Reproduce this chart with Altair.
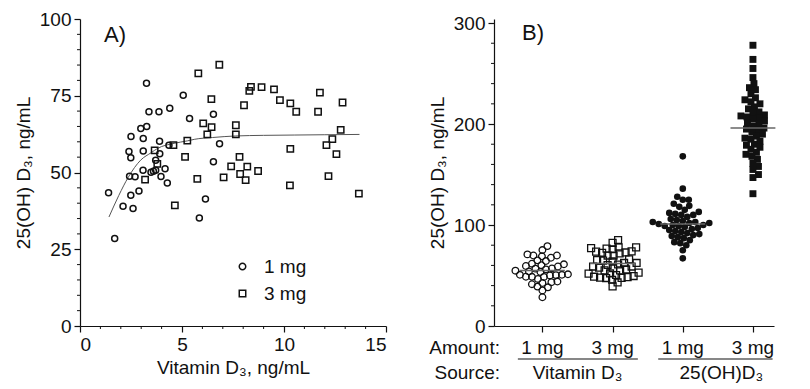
import altair as alt
import pandas as pd

FONT = "Liberation Sans"
INK = "#111111"

# ---------------- Panel A data ----------------
a1_x = [3.26, 5.06, 3.38, 3.87, 4.40, 5.37, 6.54, 2.98, 3.27, 2.50, 3.10, 3.90, 4.36, 6.84, 2.40,
        2.49, 3.10, 3.91, 3.71, 6.54, 2.43, 2.70, 3.09, 3.48, 3.60, 3.71, 4.17, 3.97, 4.28, 1.40,
        2.49, 2.89, 2.11, 2.60, 1.70, 6.15, 5.85]
a1_y = [79.1, 75.2, 69.8, 69.8, 70.9, 67.6, 69.0, 64.3, 65.0, 61.7, 61.1, 60.2, 58.9, 59.4, 56.8,
        54.8, 57.0, 56.1, 54.0, 53.5, 48.8, 48.6, 50.7, 50.1, 50.4, 50.7, 51.2, 48.7, 46.6, 43.4,
        42.6, 44.0, 39.0, 38.3, 28.5, 41.4, 35.2]
a3_x = [6.83, 5.80, 8.38, 8.90, 8.30, 9.51, 11.76, 6.44, 9.80, 10.31, 10.60, 8.04, 12.87, 11.67, 6.04,
        6.45, 7.64, 12.78, 6.24, 7.64, 5.26, 4.58, 3.66, 12.37, 12.08, 12.57, 10.31, 5.15, 7.82, 7.41,
        8.20, 8.73, 7.85, 8.12, 7.04, 5.75, 3.79, 3.19, 4.65, 10.29, 12.18, 13.67]
a3_y = [85.1, 82.3, 77.9, 77.8, 76.6, 77.1, 76.0, 73.9, 73.6, 72.5, 69.8, 71.9, 72.8, 69.8, 66.0,
        64.8, 65.4, 63.9, 62.4, 62.4, 60.4, 58.9, 57.2, 60.9, 58.9, 56.0, 57.7, 55.1, 55.1, 52.0,
        51.9, 50.5, 49.5, 47.5, 48.4, 47.9, 52.8, 47.7, 39.3, 45.8, 48.8, 43.1]
fit_x = [1.42, 1.9, 2.37, 2.97, 3.5, 3.79, 4.61, 5.26, 5.6, 6.5, 7.63, 9.0, 10.5, 12.0, 13.7]
fit_y = [35.5, 42.5, 48.5, 54.0, 56.5, 57.8, 59.5, 60.3, 60.8, 61.4, 61.9, 62.1, 62.2, 62.3, 62.4]

# ---------------- Panel B data ----------------
b1 = a1_y   # 1 mg vitamin D3
b2 = a3_y   # 3 mg vitamin D3
b3 = [168, 136, 128, 125, 125, 121, 119, 118, 115, 113, 112, 111, 110, 110, 108, 106, 105, 104,
      103, 103, 102, 102, 101, 100, 100, 99, 99, 98, 97, 96, 95, 94, 93, 92, 91, 90, 89, 88, 87,
      85, 83, 82, 80, 75, 67]
b4 = [278, 264, 255, 246, 240, 236, 234, 230, 226, 224, 222, 220, 217, 215, 212, 211, 209, 208,
      207, 206, 205, 203, 201, 200, 198, 196, 195, 194, 192, 190, 188, 186, 185, 183, 180, 179,
      177, 175, 172, 170, 168, 165, 161, 158, 155, 150, 147, 131]
b_means = [55, 62, 101, 196]
amount_labels = ["1 mg", "3 mg", "1 mg", "3 mg"]
source_labels = ["Vitamin D₃", "25(OH)D₃"]
source_x = [1.5, 3.55]
source_start = [0.65, 2.65]
source_end = [2.36, 4.28]

# ---------------- layout sizes ----------------
WA, HA = 306, 307
WB, HB = 280, 307
B_DOM = [0.31, 4.3]
B_YMAX = 304


def swarm(vals, ppx, ppy, d=6.0, step=0.5):
    """beeswarm layout: horizontal pixel offsets so that markers do not overlap too much"""
    placed = []
    offs = [0.0] * len(vals)
    for i in sorted(range(len(vals)), key=lambda k: vals[k]):
        y = vals[i] * ppy
        k = 0
        done = False
        while not done:
            cands = [0.0] if k == 0 else [k * step, -k * step]
            for c in cands:
                if all((c - px) ** 2 + (y - py) ** 2 >= d * d for px, py in placed):
                    offs[i] = c
                    placed.append((c, y))
                    done = True
                    break
            k += 1
    return [o / ppx for o in offs]


ppx = WB / (B_DOM[1] - B_DOM[0])
ppy = HB / B_YMAX
rows = []
for g, (vals, shp, filled) in enumerate([(b1, "circle", 0), (b2, "square", 0),
                                         (b3, "circle", 1), (b4, "square", 1)], start=1):
    offs = swarm(vals, ppx, ppy)
    for v, o in zip(vals, offs):
        rows.append({"g": g + o, "v": v, "shape": shp, "filled": filled})
dfB = pd.DataFrame(rows)

# ---------------- Panel A ----------------
dfA = pd.DataFrame({"x": a1_x + a3_x, "y": a1_y + a3_y,
                    "dose": ["1 mg"] * len(a1_x) + ["3 mg"] * len(a3_x)})
xA = alt.X("x:Q", scale=alt.Scale(domain=[0, 15], nice=False),
           axis=alt.Axis(values=[0, 5, 10, 15], title="Vitamin D₃, ng/mL", grid=False,
                         tickSize=6, titlePadding=4, labelPadding=3))
yA = alt.Y("y:Q", scale=alt.Scale(domain=[0, 100], nice=False),
           axis=alt.Axis(values=[0, 25, 50, 75, 100], title="25(OH) D₃, ng/mL", grid=False,
                         tickSize=6, titlePadding=6, labelPadding=3))

ptsA = alt.Chart(dfA).mark_point(filled=False, strokeWidth=1.5, color=INK, opacity=1).encode(
    x=xA, y=yA,
    shape=alt.Shape("dose:N", scale=alt.Scale(domain=["1 mg", "3 mg"], range=["circle", "square"]),
                    legend=alt.Legend(title=None, orient="none", legendX=153, legendY=238,
                                      labelFontSize=19, labelFont=FONT, labelColor=INK,
                                      symbolSize=42, symbolStrokeWidth=1.5, symbolStrokeColor=INK,
                                      symbolFillColor="transparent", labelOffset=12, rowPadding=7)),
    size=alt.Size("dose:N", scale=alt.Scale(domain=["1 mg", "3 mg"], range=[36, 48]), legend=None),
)
fitA = alt.Chart(pd.DataFrame({"x": fit_x, "y": fit_y})).mark_line(
    color="#555555", strokeWidth=1, interpolate="monotone").encode(x="x:Q", y="y:Q")

minorAy = alt.Chart(pd.DataFrame({"y": [v for v in range(5, 100, 5) if v % 25]})).mark_rule(
    color=INK, strokeWidth=1).encode(y="y:Q", x=alt.value(-3), x2=alt.value(0))
minorAx = alt.Chart(pd.DataFrame({"x": [v for v in range(1, 15) if v % 5]})).mark_rule(
    color=INK, strokeWidth=1).encode(x="x:Q", y=alt.value(HA), y2=alt.value(HA + 3))
labA = alt.Chart(pd.DataFrame({"t": ["A)"]})).mark_text(
    font=FONT, fontSize=22, align="left", baseline="alphabetic", color=INK).encode(
    text="t:N", x=alt.value(24), y=alt.value(23))

panelA = alt.layer(minorAy, minorAx, fitA, ptsA, labA).properties(width=WA, height=HA)

# ---------------- Panel B ----------------
xB = alt.X("g:Q", scale=alt.Scale(domain=B_DOM, nice=False, zero=False),
           axis=alt.Axis(values=[1, 2, 3, 4], labels=False, title=None, grid=False, tickSize=6))
yB = alt.Y("v:Q", scale=alt.Scale(domain=[0, B_YMAX], nice=False),
           axis=alt.Axis(values=[0, 100, 200, 300], title="25(OH) D₃, ng/mL", grid=False,
                         tickSize=6, titlePadding=6, labelPadding=3))
openB = alt.Chart(dfB).transform_filter("datum.filled == 0").mark_point(
    filled=False, strokeWidth=1.3, color=INK, opacity=1).encode(
    x=xB, y=yB, shape=alt.Shape("shape:N", scale=None),
    size=alt.Size("shape:N", scale=alt.Scale(domain=["circle", "square"], range=[40, 46]), legend=None))
fillB = alt.Chart(dfB).transform_filter("datum.filled == 1").mark_point(
    filled=True, color=INK, opacity=1).encode(
    x="g:Q", y="v:Q", shape=alt.Shape("shape:N", scale=None),
    size=alt.Size("shape:N", scale=alt.Scale(domain=["circle", "square"], range=[46, 50]), legend=None))
meanB = alt.Chart(pd.DataFrame({"g": [1, 2, 3, 4], "m": b_means})).transform_calculate(
    g1="datum.g - 0.32", g2="datum.g + 0.32").mark_rule(color="#666666", strokeWidth=1.5).encode(
    x="g1:Q", x2="g2:Q", y="m:Q")
minorBy = alt.Chart(pd.DataFrame({"v": [v for v in range(20, 300, 20) if v % 100]})).mark_rule(
    color=INK, strokeWidth=1).encode(y="v:Q", x=alt.value(-3), x2=alt.value(0))
labB = alt.Chart(pd.DataFrame({"t": ["B)"]})).mark_text(
    font=FONT, fontSize=22, align="left", baseline="alphabetic", color=INK).encode(
    text="t:N", x=alt.value(28), y=alt.value(21))

amt = alt.Chart(pd.DataFrame({"g": [1, 2, 3, 4], "t": amount_labels})).mark_text(
    font=FONT, fontSize=19, align="center", baseline="middle", color=INK).encode(
    x="g:Q", text="t:N", y=alt.value(HB + 22))
src = alt.Chart(pd.DataFrame({"g": source_x, "t": source_labels})).mark_text(
    font=FONT, fontSize=19, align="center", baseline="middle", color=INK).encode(
    x="g:Q", text="t:N", y=alt.value(HB + 47))
srcLine = alt.Chart(pd.DataFrame({"s": source_start, "e": source_end})).mark_rule(
    color=INK, strokeWidth=1.2).encode(x="s:Q", x2="e:Q", y=alt.value(HB + 33))
rowLab = alt.Chart(pd.DataFrame({"t": ["Amount:", "Source:"], "yy": [HB + 22, HB + 47]})).mark_text(
    font=FONT, fontSize=19, align="right", baseline="middle", color=INK).encode(
    text="t:N", x=alt.value(6), y=alt.Y("yy:Q", scale=None, axis=None))

panelB = alt.layer(minorBy, openB, fillB, meanB, labB, amt, src, srcLine, rowLab).properties(
    width=WB, height=HB)

chart = alt.hconcat(panelA, panelB, spacing=41).properties(
    padding={"left": 6, "top": 2, "right": 4, "bottom": 0}
).configure_view(stroke=None).configure_axis(
    labelFont=FONT, titleFont=FONT, labelFontSize=19, titleFontSize=19, titleFontWeight="normal",
    labelColor=INK, titleColor=INK, domainColor=INK, tickColor=INK, domainWidth=1.2, tickWidth=1.2
)

chart.save("out.html", embed_options={"renderer": "svg", "actions": False})
